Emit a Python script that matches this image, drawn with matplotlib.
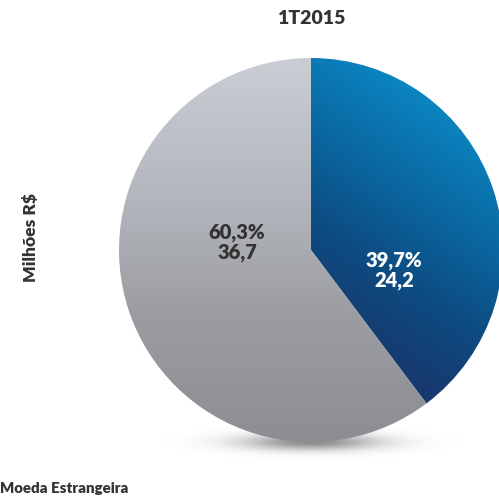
import numpy as np
import matplotlib
matplotlib.use("Agg")
import matplotlib.pyplot as plt
from matplotlib.colors import LinearSegmentedColormap, to_rgb

# ------------------------------------------------------------
# DATA
# ------------------------------------------------------------
title = "1T2015"
categories = ["Moeda Nacional", "Moeda Estrangeira"]
values = [24.2, 36.7]
pct_labels = ["39,7%", "60,3%"]
val_labels = ["24,2", "36,7"]

plt.rcParams["font.family"] = ["Lato", "DejaVu Sans"]

W, H = 499, 498
fig = plt.figure(figsize=(W / 100, H / 100), dpi=100)
ax = fig.add_axes([0, 0, 1, 1])

cx, cy, r = 311, H - 250, 192

# soft shadow under the pie (gaussian blob)
sy, sx = np.mgrid[-1:1:80j, -1:1:300j]
shadow = np.zeros((80, 300, 4))
shadow[..., :3] = to_rgb("#5a5a5a")
shadow[..., 3] = 0.7 * np.exp(-(sx ** 2) / 0.2 - (sy ** 2) / 0.12)
ax.imshow(shadow, extent=(cx - 150, cx + 150, H - 466, H - 418), zorder=1,
          interpolation="bilinear")

wedges, _ = ax.pie(values, startangle=90, counterclock=False,
                   center=(cx, cy), radius=r, frame=True,
                   wedgeprops=dict(linewidth=0))

cmaps = [
    LinearSegmentedColormap.from_list("blue", ["#0a92cf", "#0a6ea8", "#0d4a80", "#1c3267", "#1f2b5b"]),
    LinearSegmentedColormap.from_list("gray", ["#c9ced4", "#b5b9bf", "#9c9da2", "#8d8e93"]),
]
yy, xx = np.mgrid[0:1:300j, 0:1:300j]
grads = [np.clip(0.75 * yy + 0.5 * (1 - xx) - 0.08, 0, 1), yy]
for w, cm, g in zip(wedges, cmaps, grads):
    w.set_facecolor("none")
    im = ax.imshow(g, cmap=cm, extent=(cx - r, cx + r, cy - r, cy + r),
                   origin="upper", zorder=2, interpolation="bilinear")
    im.set_clip_path(w)

ax.set_xlim(0, W)
ax.set_ylim(0, H)
ax.set_aspect("equal")
ax.axis("off")

lab = dict(ha="center", va="baseline", fontsize=14.5, fontweight="heavy", zorder=5)
ax.text(394, H - 266, pct_labels[0], color="white", **lab)
ax.text(394, H - 286, val_labels[0], color="white", **lab)
ax.text(237, H - 238, pct_labels[1], color="#333333", **lab)
ax.text(237, H - 258, val_labels[1], color="#333333", **lab)

fig.text(311 / W, 1 - 18 / H, title, ha="center", va="center",
         fontsize=14, fontweight="heavy", color="#333333")
fig.text(31 / W, 1 - 237 / H, "Milhões R$", ha="center", va="center", rotation=90,
         fontsize=12.5, fontweight="heavy", color="#333333")
fig.text(0, 1 - 488 / H, categories[1], ha="left", va="center",
         fontsize=10.8, fontweight="heavy", color="#333333")

fig.savefig("out.png", dpi=100)
